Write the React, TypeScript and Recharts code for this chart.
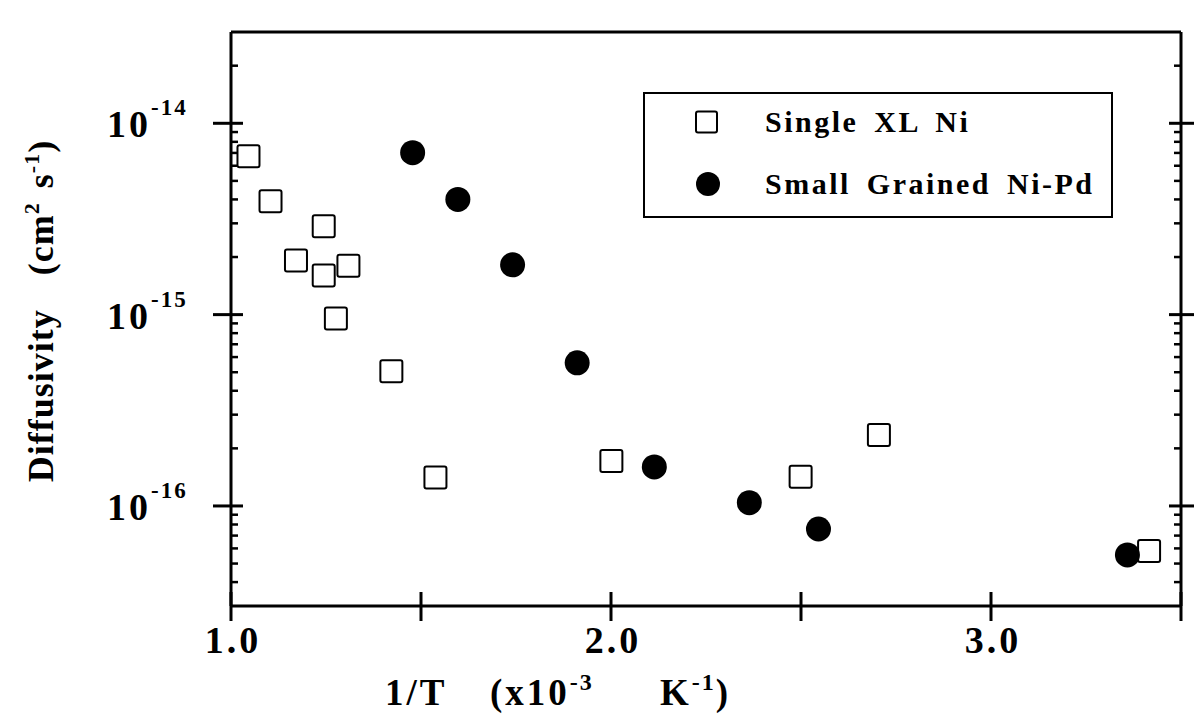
import React from 'react'
import { ScatterChart, Scatter, XAxis, YAxis, Legend } from 'recharts'

// 1/T (x10^-3 K^-1) and diffusivity (cm^2 s^-1)
const singleX = [1.046, 1.104, 1.171, 1.244, 1.244, 1.309, 1.276, 1.422, 1.538, 2.001, 2.499, 2.705, 3.416]
const singleD = [6.72e-15, 3.91e-15, 1.92e-15, 2.9e-15, 1.6e-15, 1.8e-15, 9.55e-16, 5.06e-16, 1.41e-16, 1.72e-16, 1.42e-16, 2.35e-16, 5.82e-17]
const grainX = [1.478, 1.597, 1.741, 1.911, 2.114, 2.364, 2.546, 3.359]
const grainD = [7.02e-15, 4.0e-15, 1.82e-15, 5.6e-16, 1.6e-16, 1.04e-16, 7.58e-17, 5.55e-17]

const seriesNames = ['Single XL Ni', 'Small Grained Ni-Pd']

const xTicks = [1.0, 1.5, 2.0, 2.5, 3.0, 3.5]
const xLabels = ['1.0', '2.0', '3.0']
const yMajor = [1e-14, 1e-15, 1e-16]
const yMajorExp = ['-14', '-15', '-16']
const yMinor = [
  2e-14, 9e-15, 8e-15, 7e-15, 6e-15, 5e-15, 4e-15, 3e-15, 2e-15,
  9e-16, 8e-16, 7e-16, 6e-16, 5e-16, 4e-16, 3e-16, 2e-16,
  9e-17, 8e-17, 7e-17, 6e-17, 5e-17, 4e-17,
]
const yTicks = [...yMajor, ...yMinor]

const FONT = '"Liberation Serif", "Times New Roman", serif'
const singleData = singleX.map((x, i) => ({ x, y: singleD[i] }))
const grainData = grainX.map((x, i) => ({ x, y: grainD[i] }))

const Square = (props: any) => {
  const { cx, cy } = props
  if (cx == null || cy == null) return null
  return <rect x={cx - 11} y={cy - 11} width={22} height={22} rx={2} fill="#fff" stroke="#000" strokeWidth={2} />
}

const Dot = (props: any) => {
  const { cx, cy } = props
  if (cx == null || cy == null) return null
  return <circle cx={cx} cy={cy} r={12.5} fill="#000" />
}

const BottomTick = (props: any) => {
  const { x, y, payload } = props
  const v = payload.value
  const label = Number.isInteger(v) && v < 3.5 ? xLabels[v - 1] : null
  return (
    <g>
      <line x1={x} x2={x} y1={y - 14} y2={y + 15} stroke="#000" strokeWidth={3} />
      {label && (
        <text x={x + 2} y={y + 47} textAnchor="middle" fontFamily={FONT} fontWeight="bold" fontSize={38} letterSpacing={3} fill="#000">
          {label}
        </text>
      )}
    </g>
  )
}

const TopTick = (props: any) => {
  const { x, y } = props
  return <line x1={x} x2={x} y1={y - 16} y2={y + 14} stroke="#000" strokeWidth={3} />
}

const LeftTick = (props: any) => {
  const { x, y, payload } = props
  const i = yMajor.indexOf(payload.value)
  if (i < 0) return <line x1={x} x2={x + 7} y1={y} y2={y} stroke="#000" strokeWidth={2.5} />
  return (
    <g>
      <line x1={x - 18} x2={x + 12} y1={y} y2={y} stroke="#000" strokeWidth={3} />
      <text x={x - 124} y={y + 14} fontFamily={FONT} fontWeight="bold" fontSize={38} letterSpacing={3} fill="#000">
        10
        <tspan fontSize={23} dy={-22} letterSpacing={2}>{yMajorExp[i]}</tspan>
      </text>
    </g>
  )
}

const RightTick = (props: any) => {
  const { x, y, payload } = props
  const major = yMajor.includes(payload.value)
  if (!major) return <line x1={x} x2={x - 7} y1={y} y2={y} stroke="#000" strokeWidth={2.5} />
  return <line x1={x - 12} x2={x + 16} y1={y} y2={y} stroke="#000" strokeWidth={3} />
}

const YTitle = () => (
  <text transform="rotate(-90 53 311)" x={53} y={311} textAnchor="middle" fontFamily={FONT} fontWeight="bold" fontSize={36} letterSpacing={1} fill="#000">
    Diffusivity
    <tspan dx={34}>(cm</tspan>
    <tspan fontSize={22} dy={-14}>2</tspan>
    <tspan dx={14} dy={14}>s</tspan>
    <tspan fontSize={22} dy={-14}>-1</tspan>
    <tspan dy={14}>)</tspan>
  </text>
)

const XTitle = () => (
  <text x={385} y={705} fontFamily={FONT} fontWeight="bold" fontSize={37} letterSpacing={3} fill="#000">
    1/T
    <tspan x={490}>(x10</tspan>
    <tspan fontSize={24} dy={-15} letterSpacing={2}>-3</tspan>
    <tspan x={660} dy={15}>K</tspan>
    <tspan fontSize={24} dy={-15} letterSpacing={2}>-1</tspan>
    <tspan dy={15}>)</tspan>
  </text>
)

const LegendBox = (props: any) => {
  const items = props.payload || []
  return (
    <svg width={472} height={128} style={{ display: 'block' }}>
      <rect x={1} y={1} width={468} height={124} fill="#fff" stroke="#000" strokeWidth={2} />
      {items.map((it: any, i: number) => {
        const cy = i === 0 ? 30 : 92
        return (
          <g key={it.value}>
            {i === 0 ? (
              <rect x={53} y={cy - 10.5} width={21} height={21} rx={2} fill="#fff" stroke="#000" strokeWidth={2} />
            ) : (
              <circle cx={65} cy={cy} r={12} fill="#000" />
            )}
            <text x={122} y={cy + 10} fontFamily={FONT} fontWeight="bold" fontSize={30} letterSpacing={2.5} wordSpacing={6} fill="#000">
              {it.value}
            </text>
          </g>
        )
      })}
    </svg>
  )
}

export default function App() {
  const axisLine = { stroke: '#000', strokeWidth: 3 }
  return (
    <div style={{ position: 'absolute', left: 0, top: 0, background: '#fff' }}>
      <ScatterChart width={1194} height={718} margin={{ top: 0, right: 0, bottom: 0, left: 0 }}>
        <XAxis
          xAxisId="b"
          orientation="bottom"
          type="number"
          dataKey="x"
          domain={[1, 3.5]}
          ticks={xTicks}
          interval={0}
          height={112}
          tickSize={0}
          tickMargin={0}
          tickLine={false}
          axisLine={axisLine}
          tick={<BottomTick />}
          allowDataOverflow
          label={<XTitle />}
        />
        <XAxis
          xAxisId="t"
          orientation="top"
          type="number"
          domain={[1, 3.5]}
          ticks={xTicks}
          interval={0}
          height={32}
          tickSize={0}
          tickMargin={0}
          tickLine={false}
          axisLine={axisLine}
          tick={<TopTick />}
          allowDataOverflow
        />
        <YAxis
          yAxisId="l"
          orientation="left"
          type="number"
          dataKey="y"
          scale="log"
          domain={[3e-17, 3e-14]}
          ticks={yTicks}
          interval={0}
          width={231}
          tickSize={0}
          tickMargin={0}
          tickLine={false}
          axisLine={axisLine}
          tick={<LeftTick />}
          allowDataOverflow
          label={<YTitle />}
        />
        <YAxis
          yAxisId="r"
          orientation="right"
          type="number"
          scale="log"
          domain={[3e-17, 3e-14]}
          ticks={yTicks}
          interval={0}
          width={13}
          tickSize={0}
          tickMargin={0}
          tickLine={false}
          axisLine={axisLine}
          tick={<RightTick />}
          allowDataOverflow
        />
        <Scatter name={seriesNames[0]} xAxisId="b" yAxisId="l" data={singleData} shape={<Square />} isAnimationActive={false} />
        <Scatter name={seriesNames[1]} xAxisId="b" yAxisId="l" data={grainData} shape={<Dot />} isAnimationActive={false} />
        <Legend
          layout="vertical"
          align="center"
          verticalAlign="middle"
          content={<LegendBox />}
          wrapperStyle={{ left: 643, top: 92, width: 472, height: 128 }}
        />
      </ScatterChart>
    </div>
  )
}
